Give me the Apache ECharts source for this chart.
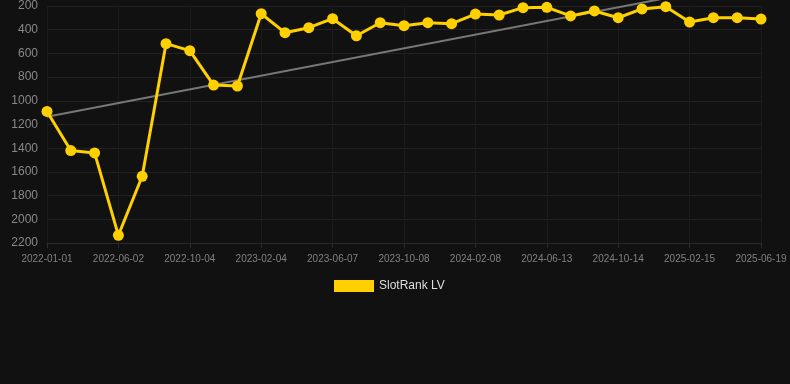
<!DOCTYPE html>
<html><head><meta charset="utf-8">
<script src="https://cdn.jsdelivr.net/npm/echarts@6/dist/echarts.min.js"></script>
<style>html,body{margin:0;padding:0;background:#111111;}#c{width:790px;height:384px;}</style>
</head><body><div id="c"></div>
<script>
const categories = ['2022-01-01','2022-02-20','2022-04-12','2022-06-02','2022-07-14','2022-08-24','2022-10-04','2022-11-14','2022-12-25','2023-02-04','2023-03-17','2023-04-27','2023-06-07','2023-07-18','2023-08-28','2023-10-08','2023-11-18','2023-12-29','2024-02-08','2024-03-21','2024-05-02','2024-06-13','2024-07-24','2024-09-03','2024-10-14','2024-11-24','2025-01-04','2025-02-15','2025-03-28','2025-05-09','2025-06-19'];
const rankValues = [1090,1420,1440,2135,1637,518,577,867,875,265,425,383,307,451,341,366,341,349,268,276,214,211,284,242,299,225,206,335,299,299,310];
const trendValues = [1134,null,null,null,null,null,null,null,null,null,null,null,null,null,null,null,null,null,null,null,null,null,null,null,null,null,null,null,null,null,-20];
const yTicks = {min:200, max:2200, interval:200};
const seriesName = 'SlotRank LV';

const chart = echarts.init(document.getElementById('c'), null, {renderer:'canvas'});
chart.setOption({
  backgroundColor:'#111111',
  animation:false,
  grid:{left:47, right:29, top:6, bottom:141, containLabel:false},
  legend:{
    data:[{name:seriesName}],
    bottom:87, left:329,
    itemWidth:40, itemHeight:12, icon:'rect', itemGap:10,
    textStyle:{color:'#dddddd', fontSize:12, fontFamily:'Arial, Liberation Sans, sans-serif'}
  },
  xAxis:{
    type:'category', data:categories, boundaryGap:false,
    axisLine:{show:true, lineStyle:{color:'#2a2a2a'}},
    axisTick:{show:true, interval:2, lineStyle:{color:'#2a2a2a'}},
    axisLabel:{interval:2, color:'#808080', fontSize:10, margin:11, fontFamily:'Arial, Liberation Sans, sans-serif'},
    splitLine:{show:true, interval:2, lineStyle:{color:'#1b1b1b'}}
  },
  yAxis:{
    type:'value', inverse:true, min:yTicks.min, max:yTicks.max, interval:yTicks.interval,
    axisLine:{show:false}, axisTick:{show:false},
    axisLabel:{color:'#888888', fontSize:12, margin:9, fontFamily:'Arial, Liberation Sans, sans-serif', formatter:function(v){return String(v);}},
    splitLine:{show:true, lineStyle:{color:'#222222'}}
  },
  series:[
    {
      name:'trend', type:'line', data:trendValues, connectNulls:true, clip:false,
      showSymbol:false, symbol:'none', silent:true,
      lineStyle:{color:'#777777', width:2}, z:1
    },
    {
      name:seriesName, type:'line', data:rankValues,
      symbol:'circle', symbolSize:11, showSymbol:true,
      itemStyle:{color:'#FFD000'},
      lineStyle:{color:'#FFD000', width:3}, z:2
    }
  ]
});
</script></body></html>
